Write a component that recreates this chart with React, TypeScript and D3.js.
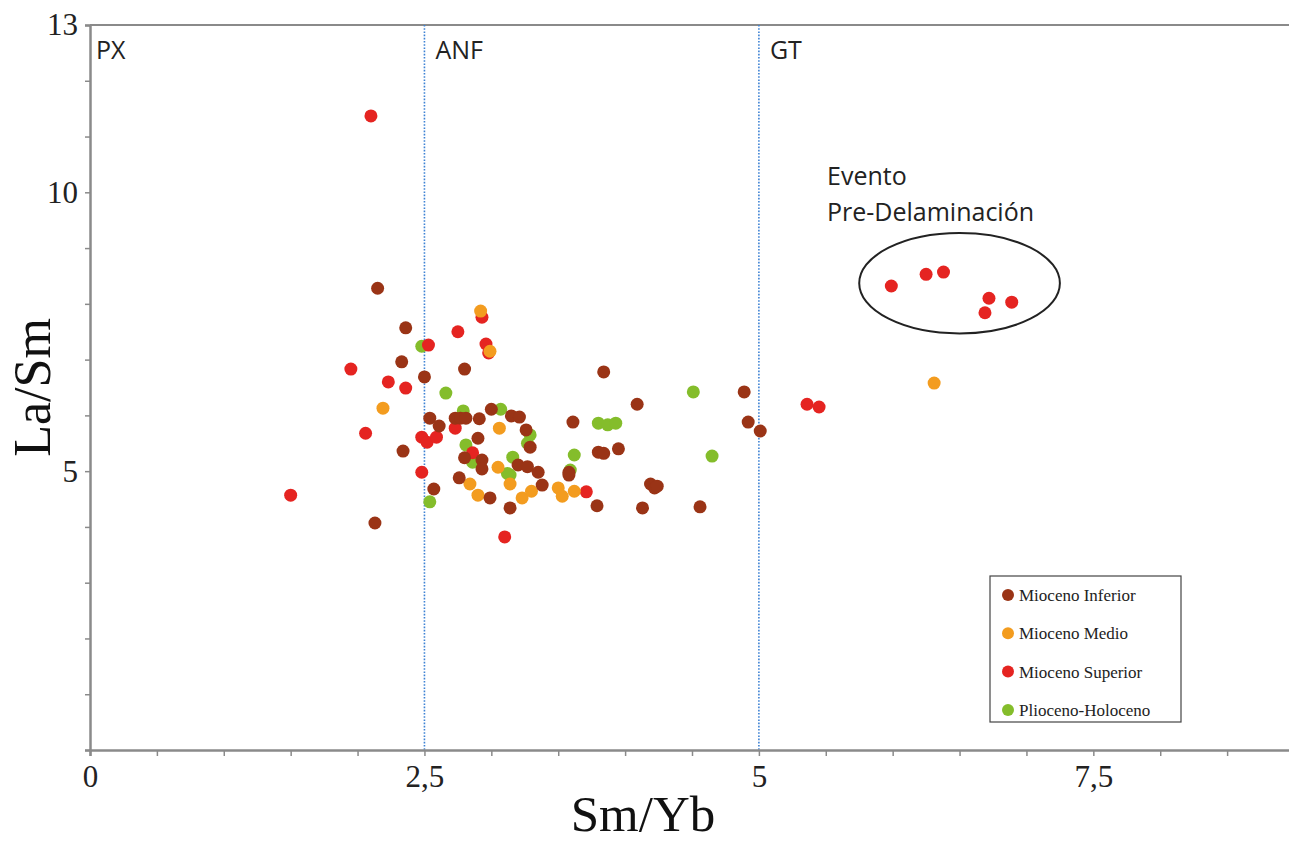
import React, { useEffect, useRef } from 'react';
import * as d3 from 'd3';

// Sm/Yb vs La/Sm
const inferior = [
  [2.15, 8.28], [2.36, 7.57], [2.33, 6.96], [2.5, 6.69], [2.8, 6.83], [2.54, 5.95],
  [2.61, 5.81], [2.73, 5.95], [2.77, 5.95], [2.81, 5.95], [2.91, 5.94], [3.0, 6.11],
  [3.15, 5.99], [3.21, 5.97], [3.26, 5.74], [3.29, 5.43], [2.9, 5.59], [2.8, 5.24],
  [2.93, 5.2], [2.93, 5.04], [2.76, 4.88], [2.34, 5.36], [2.57, 4.68], [2.13, 4.07],
  [2.99, 4.52], [3.14, 4.34], [3.2, 5.11], [3.27, 5.08], [3.35, 4.98], [3.38, 4.75],
  [3.58, 4.93], [3.58, 4.98], [3.61, 5.88], [3.84, 6.78], [3.8, 5.34], [3.84, 5.32],
  [3.95, 5.4], [4.09, 6.2], [3.79, 4.38], [4.13, 4.34], [4.19, 4.77], [4.22, 4.7],
  [4.24, 4.73], [4.56, 4.36], [4.89, 6.42], [4.92, 5.88], [5.01, 5.72],
];
const medio = [
  [2.19, 6.13], [2.92, 7.87], [2.99, 7.15], [3.06, 5.77], [3.05, 5.07], [2.84, 4.77],
  [2.9, 4.57], [3.14, 4.77], [3.23, 4.52], [3.3, 4.64], [3.5, 4.7], [3.53, 4.55],
  [3.62, 4.64], [6.31, 6.58],
];
const superior = [
  [2.1, 11.37], [1.5, 4.57], [1.95, 6.83], [2.06, 5.68], [2.23, 6.6], [2.36, 6.49],
  [2.53, 7.26], [2.75, 7.5], [2.48, 5.61], [2.52, 5.52], [2.59, 5.61], [2.48, 4.98],
  [2.93, 7.76], [2.96, 7.28], [2.98, 7.12], [2.73, 5.77], [2.86, 5.33], [3.71, 4.63],
  [3.1, 3.82], [5.36, 6.2], [5.45, 6.15], [5.99, 8.32], [6.25, 8.53], [6.38, 8.57],
  [6.72, 8.1], [6.89, 8.03], [6.69, 7.84],
];
const plioHolo = [
  [2.48, 7.24], [2.66, 6.4], [2.79, 6.08], [2.54, 4.45], [2.81, 5.47], [3.07, 6.11],
  [2.86, 5.16], [3.29, 5.65], [3.27, 5.5], [3.16, 5.25], [3.12, 4.96], [3.14, 4.93],
  [3.62, 5.29], [3.59, 5.02], [3.8, 5.86], [3.87, 5.83], [3.93, 5.86], [4.51, 6.42],
  [4.65, 5.27],
];

const seriesNames = ['Mioceno Inferior', 'Mioceno Medio', 'Mioceno Superior', 'Plioceno-Holoceno'];
const seriesColors = ['#9a3416', '#f39c1f', '#e52421', '#84bd2b'];
const seriesData = [inferior, medio, superior, plioHolo];
const drawOrder = [3, 2, 1, 0];

const xTicks = d3.range(0, 9.01, 0.5);
const xLabels = [0, 2.5, 5, 7.5];
const yTicks = d3.range(0, 14, 1);
const yLabels = [5, 10, 13];

const fields = ['PX', 'ANF', 'GT'];
const fieldStarts = [0, 2.5, 5];
const boundaries = [2.5, 5];

const W = 1289;
const H = 842;
const margin = { top: 25, bottom: 92, left: 90 };
const axisGray = '#8a8a8a';
const serif = '"Liberation Serif", "Times New Roman", serif';
const sans = '"Open Sans", "Noto Sans", sans-serif';

const App = () => {
  const svgRef = useRef(null);

  useEffect(() => {
    const svg = d3.select(svgRef.current);
    svg.selectAll('*').remove();

    // axis runs a little past the right edge of the picture
    const x = d3.scaleLinear().domain([0, 9]).range([margin.left, 1294]);
    const y = d3.scaleLinear().domain([0, 13]).range([H - margin.bottom, margin.top]);
    const fmt = (v) => String(v).replace('.', ',');

    // top frame line
    svg.append('line')
      .attr('x1', x(0)).attr('x2', W)
      .attr('y1', y(13)).attr('y2', y(13))
      .attr('stroke', axisGray).attr('stroke-width', 2);

    // field boundaries
    boundaries.forEach((b) => {
      svg.append('line')
        .attr('x1', x(b)).attr('x2', x(b))
        .attr('y1', y(13)).attr('y2', y(0))
        .attr('stroke', '#3d82d4').attr('stroke-width', 1.6)
        .attr('stroke-dasharray', '1.6,1.6');
    });

    // x axis
    const gx = svg.append('g')
      .attr('transform', `translate(0,${y(0)})`)
      .call(d3.axisBottom(x).tickValues(xTicks).tickSize(6).tickPadding(9)
        .tickFormat((d) => (xLabels.includes(d) ? fmt(d) : '')));
    gx.select('.domain').attr('stroke', axisGray).attr('stroke-width', 2.5);
    gx.selectAll('.tick line').attr('stroke', axisGray).attr('stroke-width', 1.5);
    gx.selectAll('text').attr('font-family', serif).attr('font-size', 31).attr('fill', '#222');

    // y axis
    const gy = svg.append('g')
      .attr('transform', `translate(${x(0)},0)`)
      .call(d3.axisLeft(y).tickValues(yTicks).tickSize(5).tickPadding(7)
        .tickFormat((d) => (yLabels.includes(d) ? fmt(d) : '')));
    gy.select('.domain').attr('stroke', axisGray).attr('stroke-width', 2.5);
    gy.selectAll('.tick line').attr('stroke', axisGray).attr('stroke-width', 1.5);
    gy.selectAll('text').attr('font-family', serif).attr('font-size', 31).attr('fill', '#222');

    // axis titles
    svg.append('text')
      .attr('x', 643).attr('y', 831)
      .attr('text-anchor', 'middle')
      .attr('font-family', serif).attr('font-size', 51).attr('fill', '#111')
      .text('Sm/Yb');
    svg.append('text')
      .attr('transform', `translate(50,${y(6.5)}) rotate(-90)`)
      .attr('text-anchor', 'middle')
      .attr('font-family', serif).attr('font-size', 52).attr('fill', '#111')
      .text('La/Sm');

    // field labels
    fields.forEach((name, i) => {
      const x0 = fieldStarts[i];
      svg.append('text')
        .attr('x', x(x0) + (x0 === 0 ? 6 : 11)).attr('y', y(13) + 34)
        .attr('font-family', sans).attr('font-size', 25).attr('fill', '#222')
        .text(name);
    });

    // annotation
    svg.append('ellipse')
      .attr('cx', x(6.5)).attr('cy', y(8.37))
      .attr('rx', x(6.5 + 0.75) - x(6.5)).attr('ry', y(8.37) - y(8.37 + 0.9))
      .attr('fill', 'none').attr('stroke', '#222').attr('stroke-width', 2);
    const note = svg.append('text')
      .attr('font-family', sans).attr('font-size', 25).attr('fill', '#222');
    note.append('tspan').attr('x', 827).attr('y', 185).text('Evento');
    note.append('tspan').attr('x', 827).attr('y', 221).text('Pre-Delaminación');

    // points
    drawOrder.forEach((i) => {
      svg.append('g')
        .selectAll('circle')
        .data(seriesData[i])
        .join('circle')
        .attr('cx', (d) => x(d[0]))
        .attr('cy', (d) => y(d[1]))
        .attr('r', 6.5)
        .attr('fill', seriesColors[i]);
    });

    // legend
    const lg = svg.append('g');
    lg.append('rect')
      .attr('x', 990).attr('y', 576).attr('width', 191).attr('height', 146)
      .attr('fill', 'white').attr('stroke', '#444').attr('stroke-width', 1.2);
    seriesNames.forEach((name, i) => {
      const cy = 595 + i * 38.3;
      lg.append('circle')
        .attr('cx', 1008).attr('cy', cy).attr('r', 6)
        .attr('fill', seriesColors[i]);
      lg.append('text')
        .attr('x', 1019).attr('y', cy + 6)
        .attr('font-family', serif).attr('font-size', 17).attr('fill', '#222')
        .text(name);
    });
  }, []);

  return (
    <svg
      ref={svgRef}
      width={W}
      height={H}
      style={{ position: 'absolute', left: 0, top: 0, background: 'white' }}
    />
  );
};

export default App;
